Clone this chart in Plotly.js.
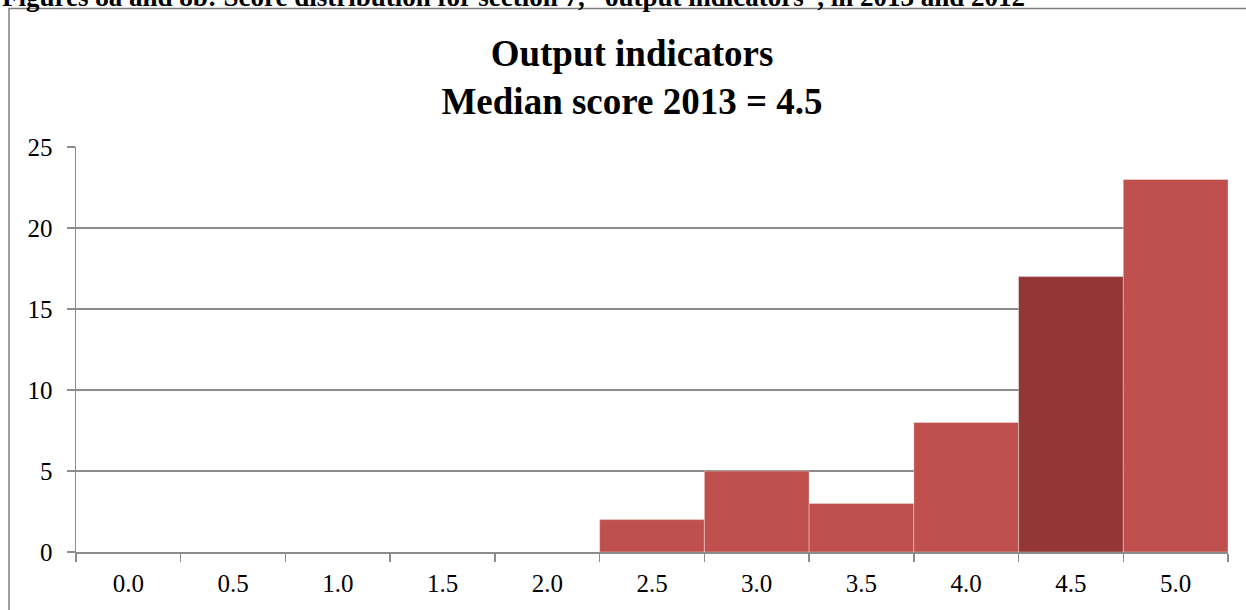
<!DOCTYPE html>
<html>
<head>
<meta charset="utf-8">
<script src="https://cdn.plot.ly/plotly-3.0.1.min.js"></script>
<style>
  html, body { margin: 0; padding: 0; background: #ffffff; }
  #chart { width: 1246px; height: 610px; }
</style>
</head>
<body>
<div id="chart"></div>
<script>
// Data
var scoreCategories = ["0.0", "0.5", "1.0", "1.5", "2.0", "2.5", "3.0", "3.5", "4.0", "4.5", "5.0"];
var countries = [0, 0, 0, 0, 0, 2, 5, 3, 8, 17, 23];
var medianCategory = "4.5";
var yTicks = [0, 5, 10, 15, 20, 25];
var chartTitle = "Output indicators<br>Median score 2013 = 4.5";
var captionText = "Figures 8a and 8b: Score distribution for section 7, \u201coutput indicators\u201d, in 2013 and 2012";

var SERIF = '"Liberation Serif", "Times New Roman", Times, serif';
var BAR = '#C0504D', BAR_DARK = '#943634', GRID = '#8C8C8C';

var W = 1246, H = 610;
var L = 76, R = W - 1228, T = 147, B = H - 552;
var pw = W - L - R, ph = H - T - B;
function px(x) { return (x - L) / pw; }
function py(y) { return 1 + (T - y) / ph; }

var barColors = scoreCategories.map(function (c) { return c === medianCategory ? BAR_DARK : BAR; });

var trace = {
  type: 'bar',
  x: scoreCategories,
  y: countries,
  marker: { color: barColors, line: { color: 'rgba(255,255,255,0.35)', width: 1 } },
  hoverinfo: 'x+y'
};

var layout = {
  width: W, height: H,
  margin: { l: L, r: R, t: T, b: B, pad: 0 },
  paper_bgcolor: '#ffffff',
  plot_bgcolor: '#ffffff',
  bargap: 0,
  showlegend: false,
  font: { family: SERIF, color: '#000000', size: 25 },
  title: {
    text: '<b>' + chartTitle + '</b>',
    font: { family: SERIF, size: 37, color: '#000000' },
    xref: 'paper', x: px(632), xanchor: 'center',
    yref: 'container', y: 1 - 66 / H, yanchor: 'middle'
  },
  xaxis: {
    type: 'category',
    range: [-0.5, scoreCategories.length - 0.5],
    tickson: 'boundaries',
    ticks: 'outside', ticklen: 8, tickwidth: 1.5, tickcolor: GRID,
    showline: true, linecolor: GRID, linewidth: 1.5,
    showgrid: false, zeroline: false,
    tickfont: { family: SERIF, size: 25, color: '#000000' },
    ticklabelstandoff: 8,
    fixedrange: true
  },
  yaxis: {
    range: [0, 25],
    tickvals: yTicks,
    ticktext: yTicks.map(String),
    ticks: 'outside', ticklen: 8, tickwidth: 1.5, tickcolor: GRID,
    showline: true, linecolor: GRID, linewidth: 1.5,
    showgrid: true, gridcolor: GRID, gridwidth: 1.5,
    zeroline: false,
    tickfont: { family: SERIF, size: 25, color: '#000000' },
    ticklabelstandoff: 9,
    fixedrange: true
  },
  shapes: [{
    type: 'rect', xref: 'paper', yref: 'paper',
    x0: px(9), x1: px(W + 20), y0: py(H + 20), y1: py(8.5),
    line: { color: '#7F7F7F', width: 1.5 }, fillcolor: 'rgba(0,0,0,0)', layer: 'below'
  }],
  annotations: [{
    text: '<b>' + captionText + '</b>',
    xref: 'paper', yref: 'paper',
    x: px(0), xanchor: 'left',
    y: py(-3), yanchor: 'middle',
    showarrow: false,
    font: { family: SERIF, size: 27, color: '#000000' }
  }]
};

Plotly.newPlot('chart', [trace], layout, { displayModeBar: false, staticPlot: true });
</script>
</body>
</html>
